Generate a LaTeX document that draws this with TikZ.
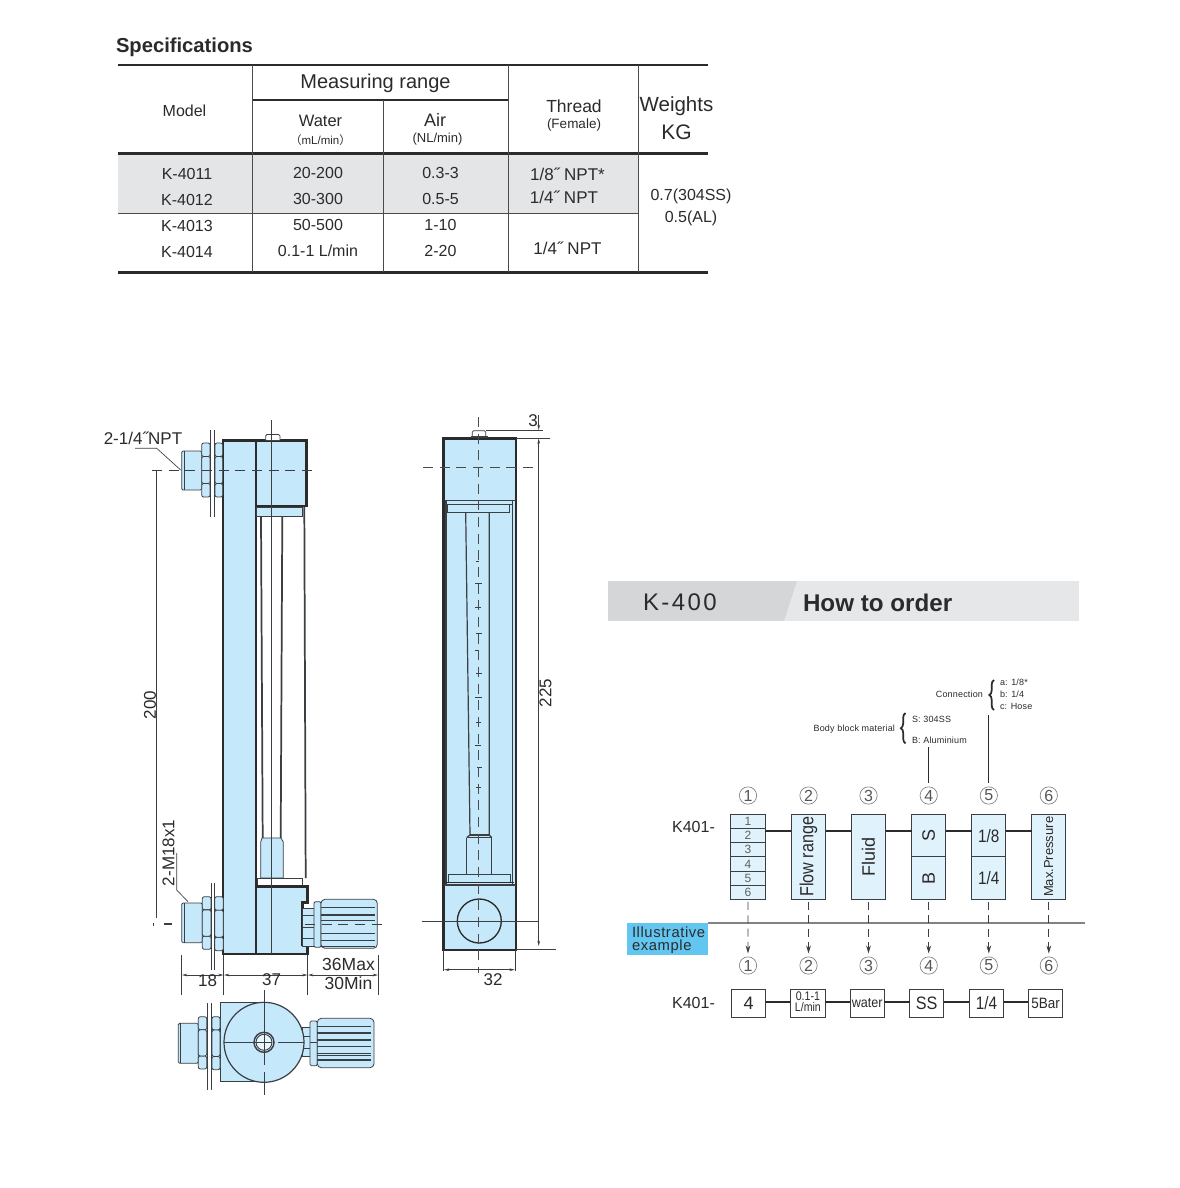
\documentclass[tikz,border=0pt]{standalone}
\usepackage{fontspec}
\setmainfont{Liberation Sans}
\newfontfamily\cjkparen{Noto Sans CJK SC}
\usetikzlibrary{arrows.meta,decorations.pathreplacing,calc}
\definecolor{bodyblue}{HTML}{C6E8FB}
\definecolor{paleblue}{HTML}{E0F2FC}
\definecolor{ink}{HTML}{2B2B2B}
\definecolor{inkline}{HTML}{3A3F44}
\definecolor{rowgray}{HTML}{E4E5E6}
\definecolor{headdark}{HTML}{D5D6D8}
\definecolor{headlight}{HTML}{E6E7E8}
\definecolor{tagblue}{HTML}{62C6F0}
\definecolor{midgray}{HTML}{808285}
\newcommand{\pxf}[1]{\fontsize{\fpeval{#1*0.75}}{\fpeval{#1*0.75}}\selectfont}
\newcommand{\nutpart}[4]{%
 \begin{scope}[shift={(#1,#2)},xscale=#3,yscale=#4]
  \draw[part,rounded corners=1.5pt] (0,0) rectangle (1,.25);
  \draw[part,rounded corners=1.5pt] (0,.75) rectangle (1,1);
  \draw[part,rounded corners=1.5pt] (0,.25) rectangle (1,.75);
 \end{scope}}
\tikzset{
 txt/.style={inner sep=0,outer sep=0,text=ink,align=center},
 part/.style={draw=inkline,fill=bodyblue,line width=.6pt},
 heavy/.style={draw=ink,line width=1.9pt},
 thin line/.style={draw=inkline,line width=.6pt},
 med line/.style={draw=inkline,line width=.9pt},
 tubeline/.style={draw=inkline,line width=1.3pt},
 center dash/.style={draw=inkline,line width=.6pt,dash pattern=on 7.5pt off 5pt},
 dim/.style={draw=inkline,line width=.5pt},
 dimarrow/.style={draw=inkline,line width=.5pt,{Stealth[length=4pt,width=2pt]}-{Stealth[length=4pt,width=2pt]}},
 tableline/.style={draw=ink!85,line width=.7pt},
 tablebold/.style={draw=ink,line width=1.7pt},
 ubox/.style={draw=inkline,fill=paleblue,line width=.7pt,minimum width=25.6pt,minimum height=63.75pt,inner sep=0,outer sep=0,text=ink},
 rowbox/.style={draw=inkline,fill=paleblue,line width=.7pt,minimum width=25.6pt,minimum height=10.625pt,inner sep=0,outer sep=0,text=ink!75,font=\pxf{12}},
 halfbox/.style={draw=inkline,fill=paleblue,line width=.7pt,minimum width=25.6pt,minimum height=31.9pt,inner sep=0,outer sep=0,text=ink},
 lbox/.style={draw=inkline,fill=white,line width=.7pt,minimum width=25.8pt,minimum height=21.4pt,inner sep=0,outer sep=0,text=ink},
 circnum/.style={circle,draw=midgray,line width=.5pt,minimum size=13pt,inner sep=0,outer sep=0,text=ink!80,font=\pxf{16}},
 link/.style={draw=ink,line width=1.5pt},
 dashlink/.style={draw=inkline,line width=.6pt,dash pattern=on 6pt off 4pt,-{Stealth[length=6pt,width=3.5pt]},shorten >=2.5pt,shorten <=2pt},
 small/.style={txt,font=\pxf{9}\addfontfeature{LetterSpace=2}},
 bracelike/.style={draw=ink,line width=1.3pt,decorate,decoration={brace,amplitude=3.5pt,mirror}},
}
\begin{document}
\begin{tikzpicture}[x=0.75pt,y=-0.75pt]
\useasboundingbox (0,0) rectangle (1180,1188);
\fill[white] (0,0) rectangle (1180,1188);

%% ---------- table ----------
\fill[rowgray] (118,153) rectangle (638,213);
\draw[tablebold] (118,65) -- (708,65);
\draw[tablebold] (252,100) -- (508,100);
\draw[tablebold] (118,153.5) -- (708,153.5);
\draw[tablebold] (118,272.5) -- (708,272.5);
\draw[tableline] (118,213.5) -- (638,213.5);
\draw[tableline] (252,65) -- (252,272);
\draw[tableline] (383,100) -- (383,272);
\draw[tableline] (508,65) -- (508,272);
\draw[tableline] (638,65) -- (638,272);
\node[txt,anchor=west,font=\pxf{20.2}\bfseries] (spec) at (116,47) {Specifications};
\node[txt,font=\pxf{16}] (h1) at (184.5,111) {Model};
\node[txt,font=\pxf{20}] (h2) at (375.5,83.5) {Measuring range};
\node[txt,font=\pxf{16.5}] (h3) at (320.5,121) {Water};
\node[txt,font=\pxf{11.5}] (h4) at (320.5,140) {{\cjkparen （}mL/min{\cjkparen ）}};
\node[txt,font=\pxf{18}] (h5) at (435,120) {Air};
\node[txt,font=\pxf{13}] (h6) at (437.5,139.5) {(NL/min)};
\node[txt,font=\pxf{17.5}] (h7) at (574,106) {Thread};
\node[txt,font=\pxf{13.5}] (h8) at (574,125.5) {(Female)};
\node[txt,font=\pxf{20.5}] (h9) at (676.5,106.5) {Weights};
\node[txt,font=\pxf{21}] (h10) at (676.5,132.5) {KG};
\foreach \n/\t/\y in {a/K-4011/173.5,b/K-4012/199.5,c/K-4013/225.5,d/K-4014/251.5}
  \node[txt,font=\pxf{16}] (m\n) at (187,\y) {\t};
\foreach \n/\t/\y in {a/20-200/172.5,b/30-300/198.5,c/50-500/224.5,d/0.1-1 L\slash min/250.5}
  \node[txt,font=\pxf{16}] (w\n) at (318,\y) {\t};
\foreach \n/\t/\y in {a/0.3-3/172.5,b/0.5-5/198.5,c/1-10/224.5,d/2-20/250.5}
  \node[txt,font=\pxf{16}] (r\n) at (440.5,\y) {\t};
\node[txt,font=\pxf{17}] (t1) at (567.5,174) {1/8˝ NPT*};
\node[txt,font=\pxf{17}] (t2) at (564,197) {1/4˝ NPT};
\node[txt,font=\pxf{17}] (t3) at (567.5,248) {1/4˝ NPT};
\node[txt,font=\pxf{16}] (k1) at (691,196.5) {0.7(304SS)};
\node[txt,font=\pxf{16}] (k2) at (691,218) {0.5(AL)};

%% ---------- side view ----------
% tube interior
\draw[tubeline] (261,517) -- (262.7,838);
\draw[tubeline] (282.3,517) -- (280.7,838);
\draw[tubeline] (304.3,507) -- (305.7,878);
% body and blocks
\draw[part,line width=1.9pt,draw=ink] (223,440.5) rectangle (256,954);
\draw[part,line width=1.9pt,draw=ink] (256,440.5) rectangle (306.7,506);
\draw[part] (256.7,507) rectangle (302.3,516.7);
\draw[part] (262,838) -- (260.7,842) -- (260.7,878) -- (283.3,878) -- (283.3,842) -- (281,838) -- cycle;
\draw[draw=inkline,fill=white,line width=.6pt] (257,878) rectangle (302.7,886.7);
\draw[heavy,fill=bodyblue] (256,886.7) -- (307.7,886.7) -- (307.7,902.7) -- (302.7,902.7) -- (302.7,945) -- (307.7,945) -- (307.7,954) -- (256,954) -- cycle;
% top screw
\draw[draw=inkline,fill=white,line width=.6pt,rounded corners=1pt] (265.7,440) -- (265.7,434.5) -- (280,434.5) -- (280,440);
% top fitting
\draw[part,rounded corners=1pt] (181.7,451) rectangle (201.7,490);
\draw[thin line] (184,451) -- (184,490);
\nutpart{201.7}{443}{8.4}{54}
\nutpart{215}{443}{7.7}{54}
\draw[thin line] (210.3,430) -- (210.3,516.7);
\draw[thin line] (214.3,430) -- (214.3,516.7);
% bottom fitting
\draw[part,rounded corners=1pt] (181.7,903) rectangle (202.3,942.7);
\draw[thin line] (184,903) -- (184,942.7);
\nutpart{202.3}{896.7}{8.7}{52.6}
\nutpart{214.7}{896.7}{8.6}{54}
\draw[thin line] (211,883) -- (211,970);
\draw[thin line] (214.7,883) -- (214.7,970);
% knob
\draw[part] (302.7,908) rectangle (314,946);
\foreach \y in {915,927,938} \draw[thin line] (303,\y) -- (314,\y);
\draw[part,rounded corners=1pt] (314,901.7) rectangle (321,947.3);
\draw[part,rounded corners=3pt] (321,899.3) rectangle (377.3,948.3);
\foreach \y in {907.3,915,920.7,933.3,940.7} \draw[med line] (321,\y) -- (375,\y);
\draw[thin line] (321,946.5) -- (375,946.5);
% centre lines
\draw[thin line] (271.7,420) -- (271.7,954);
\draw[center dash] (152,470.3) -- (317,470.3);
\draw[thin line] (153.5,922.5) -- (153.5,925.5);
\draw[med line] (164,924) -- (172,924);
\draw[center dash] (305,924) -- (381.7,924);
% dims
\draw[dim] (156.7,470.3) -- (156.7,918);
\node[txt,rotate=90,font=\pxf{17}] (d200) at (150,705) {200};
\node[txt,rotate=90,font=\pxf{17}] (dm18) at (168.5,853) {2-M18x1};
\draw[dim] (176.7,853) -- (176.7,890) -- (188,901.7);
\node[txt,font=\pxf{17}] (dnpt) at (143,438) {2-1/4˝NPT};
\draw[dim] (135,448.3) -- (156.7,448.3) -- (180.7,470);
\draw[dim] (181.7,955) -- (181.7,995);
\draw[dim] (223.7,955) -- (223.7,995);
\draw[dim] (307.7,955) -- (307.7,995);
\draw[dim] (378.3,955) -- (378.3,995);
\draw[dimarrow] (182,975) -- (223.5,975);
\draw[dimarrow] (224,975) -- (307.5,975);
\draw[dimarrow] (308,975) -- (378,975);
\node[txt,font=\pxf{17}] (d18) at (207.5,981) {18};
\node[txt,font=\pxf{17}] (d37) at (271.5,980) {37};
\node[txt,font=\pxf{17.5}] (d36) at (348.5,964) {36Max};
\node[txt,font=\pxf{17.5}] (d30) at (348.5,983) {30Min};

%% ---------- top view ----------
\draw[part,line width=.9pt] (264,1002.3) -- (220.7,1002.3) -- (220.7,1081.7) -- (264,1081.7);
\draw[part] (302.3,1027.7) rectangle (310,1056.7);
\draw[thin line] (302.3,1036) -- (310,1036);
\draw[thin line] (302.3,1048) -- (310,1048);
\draw[part,line width=.9pt] (264,1042.3) circle[radius=40];
\draw[part,rounded corners=1pt] (178.3,1023.3) rectangle (198.3,1063.3);
\draw[thin line] (180.5,1023.3) -- (180.5,1063.3);
\nutpart{198.3}{1016.7}{8.4}{52.3}
\nutpart{212}{1016.7}{8}{53}
\draw[thin line] (207.3,1003) -- (207.3,1090);
\draw[thin line] (211.3,1003) -- (211.3,1090);
\draw[part,rounded corners=1pt] (310,1021) rectangle (317.3,1065.7);
\draw[part,rounded corners=3pt] (317.3,1018.3) rectangle (374,1067.7);
\foreach \y in {1026.7,1033,1040,1046.7,1053.3,1055.7,1060} \draw[med line] (317.3,\y) -- (371,\y);
\draw[part,line width=1.1pt,fill=bodyblue!40] (264,1042.3) circle[radius=10];
\draw[draw=inkline,line width=.7pt] (264,1042.3) circle[radius=8];
\draw[thin line] (264,990) -- (264,1065);
\draw[thin line] (264,1072) -- (264,1095);
\draw[thin line] (224,1042.3) -- (272,1042.3);
\draw[thin line] (278,1042.3) -- (304,1042.3);
\draw[thin line] (310,1042.3) -- (317,1042.3);

%% ---------- front view ----------
\draw[draw=ink,fill=bodyblue,line width=1.9pt] (443.5,438.5) rectangle (516,950);
\draw[draw=inkline,line width=.9pt] (446,500.7) -- (446,885);
\draw[draw=inkline,line width=.9pt] (512.7,500.7) -- (512.7,885);
\draw[draw=inkline,line width=.9pt] (443.5,500.7) -- (516,500.7);
\draw[draw=inkline,line width=.6pt] (446,504) -- (512.7,504);
\draw[part] (447.3,504) rectangle (509.3,512.3);
\draw[med line] (465.7,512.3) -- (470,835) -- (466.7,837.5);
\draw[med line] (489.3,512.3) -- (489.3,835) -- (491.7,837.5);
\draw[med line] (470,835) -- (489.3,835);
\draw[med line] (466.7,837.5) -- (491.7,837.5);
\draw[med line] (466.7,837.5) -- (466.7,874);
\draw[med line] (491.7,837.5) -- (491.7,874);
\draw[part] (448.3,874) rectangle (510.7,882.3);
\draw[draw=ink,line width=.9pt] (445,882.3) -- (514,882.3);
\draw[draw=inkline,line width=.9pt] (443.5,885) -- (516,885);
\draw[draw=ink,line width=1pt] (479.3,921) circle[radius=22];
\draw[draw=inkline,fill=white,line width=.6pt,rounded corners=1pt] (472.3,437) -- (472.3,430.7) -- (485.7,430.7) -- (485.7,437);
\draw[draw=inkline,line width=.8pt] (470.5,437) -- (487.5,437);
\foreach \y/\a/\b in {561/476/479,583/475/482,607/475/481,633/476/482,650/475/479,673/476/482,697/475/482,722/476/481,745/475/481,767/477/482,787/476/481}
  \draw[thin line] (\a,\y) -- (\b,\y);
\draw[center dash,draw=ink!85,line width=.8pt] (478.7,417) -- (478.7,973);
\draw[center dash,draw=ink!85,line width=.8pt] (423,467.3) -- (533,467.3);
\draw[thin line] (422.3,921) -- (538.3,921);
\draw[thin line] (516,949.5) -- (556,949.5);
\draw[thin line] (485.7,430) -- (543,430);
\draw[thin line] (516,438.3) -- (550,438.3);
\draw[dim,-{Stealth[length=4pt,width=2pt]}] (538.7,415) -- (538.7,430);
\draw[dimarrow] (538.7,438.5) -- (538.7,946);
\node[txt,font=\pxf{17}] (d3) at (533,420.5) {3};
\node[txt,rotate=90,font=\pxf{17}] (d225) at (545.5,693) {225};
\draw[dim] (443.7,950) -- (443.7,971);
\draw[dim] (515,950) -- (515,971);
\draw[dimarrow] (444,969.7) -- (514.7,969.7);
\node[txt,font=\pxf{17}] (d32) at (493,979.5) {32};

%% ---------- how to order header ----------
\fill[headlight] (608,581) rectangle (1078.5,620.7);
\fill[headdark] (608,581) -- (797,581) -- (784,620.7) -- (608,620.7) -- cycle;
\node[txt,anchor=west,text=ink,font=\pxf{24}\addfontfeature{LetterSpace=10}] (hk) at (643,602.5) {K-400};
\node[txt,anchor=west,font=\pxf{24.2}\bfseries] (hh) at (803,603) {How to order};

%% ---------- how to order ----------
\coordinate (cya) at (0,830.7);
\coordinate (cyb) at (0,1001.7);
\draw[draw=midgray,line width=1.2pt] (708,922.8) -- (1085,922.8);
\node[inner sep=0,outer sep=0,fill=tagblue,minimum width=60.75pt,minimum height=24pt] (tag) at (667.5,939) {};
\node[txt,anchor=west,font=\pxf{14.8}\addfontfeature{LetterSpace=4},align=left] (tagt) at (632,932.5) {Illustrative};
\node[txt,anchor=west,font=\pxf{14.8}\addfontfeature{LetterSpace=4},align=left] (tagu) at (632,946.5) {example};

\node[txt,font=\pxf{16}] (k401a) at (693.5,826.5) {K401-};
\node[txt,font=\pxf{16}] (k401b) at (693.5,1003) {K401-};

\foreach \i/\x in {1/748,2/808.5,3/868.5,4/928.7,5/988.8,6/1048.8}{
  \node[circnum] (ca\i) at (\x,795.5) {\i};
  \node[circnum] (cb\i) at (\x,965.5) {\i};
}
% upper row
\node[ubox] (u1) at (747.9,856.8) {};
\foreach \i in {1,...,6}
  \node[rowbox] (ur\i) at (747.9,{814.3+14.17*(\i-.5)}) {\i};
\node[ubox,font=\pxf{19}] (u2) at (808.5,856.8) {\raisebox{0pt}{\rotatebox{90}{\scalebox{.85}[1]{Flow range}}}};
\node[ubox,font=\pxf{18}] (u3) at (868.5,856.8) {\rotatebox{90}{Fluid}};
\node[ubox] (u4) at (928.7,856.8) {};
\node[halfbox,font=\pxf{18}] (u4s) at (928.7,835.6) {\rotatebox{90}{S}};
\node[halfbox,font=\pxf{18}] (u4b) at (928.7,878.1) {\rotatebox{90}{B}};
\node[ubox] (u5) at (988.8,856.8) {};
\node[halfbox,font=\pxf{18}] (u5a) at (988.8,835.6) {\raisebox{-1.2pt}{\scalebox{.85}[1]{1/8}}};
\node[halfbox,font=\pxf{18}] (u5b) at (988.8,878.1) {\scalebox{.85}[1]{1/4}};
\node[ubox,font=\pxf{13}] (u6) at (1048.8,856.8) {\rotatebox{90}{Max.Pressure}};
\foreach \a/\b in {u1/u2,u2/u3,u3/u4,u4/u5,u5/u6}
  \draw[link] (\a.east |- cya) -- (\b.west |- cya);
% lower row
\node[lbox,font=\pxf{18}] (l1) at (748.7,1003.4) {4};
\node[lbox,font=\pxf{12.5}] (l2) at (807.9,1003.4) {\begin{tabular}{@{}c@{}}\scalebox{.85}[1]{0.1-1}\\[-1.5pt]\scalebox{.85}[1]{L/min}\end{tabular}};
\node[lbox,font=\pxf{14}] (l3) at (867.2,1003.4) {\scalebox{.9}[1]{water}};
\node[lbox,font=\pxf{18}] (l4) at (926.7,1003.4) {\scalebox{.9}[1]{SS}};
\node[lbox,font=\pxf{18}] (l5) at (986.4,1003.4) {\scalebox{.85}[1]{1/4}};
\node[lbox,font=\pxf{15}] (l6) at (1045.5,1003.4) {\scalebox{.9}[1]{5Bar}};
\foreach \a/\b in {l1/l2,l2/l3,l3/l4,l4/l5,l5/l6}
  \draw[link] (\a.east |- cyb) -- (\b.west |- cyb);
% dashed arrows
\foreach \i in {2,...,6}
  \draw[dashlink] (u\i.south) -- (cb\i.north);
\draw[dashlink] (ur6.south) -- (cb1.north);
% annotations
\node[small,anchor=east] (bbm) at (895,729.5) {Body block material};
\node[small,anchor=west] (bs) at (912,719.7) {S: 304SS};
\node[small,anchor=west] (bb) at (912,740) {B: Aluminium};
\coordinate (bt1) at (905.5,713);
\coordinate (bt2) at (905.5,743.3);
\draw[bracelike] (bt1) -- (bt2);
\node[small,anchor=east] (con) at (983,694.7) {Connection};
\node[small,anchor=west] (ca) at (1000,682.3) {a: 1/8*};
\node[small,anchor=west] (cb) at (1000,694.7) {b: 1/4};
\node[small,anchor=west] (cc) at (1000,706.7) {c: Hose};
\coordinate (ct1) at (994,680);
\coordinate (ct2) at (994,710);
\draw[bracelike] (ct1) -- (ct2);
\coordinate (lead4) at (928.7,747);
\coordinate (lead5) at (988.8,715);
\draw[thin line,draw=ink,line width=.7pt] (lead4) -- ($(ca4.north)+(0,-4)$);
\draw[thin line,draw=ink,line width=.7pt] (lead5) -- ($(ca5.north)+(0,-4)$);
\end{tikzpicture}
\end{document}
